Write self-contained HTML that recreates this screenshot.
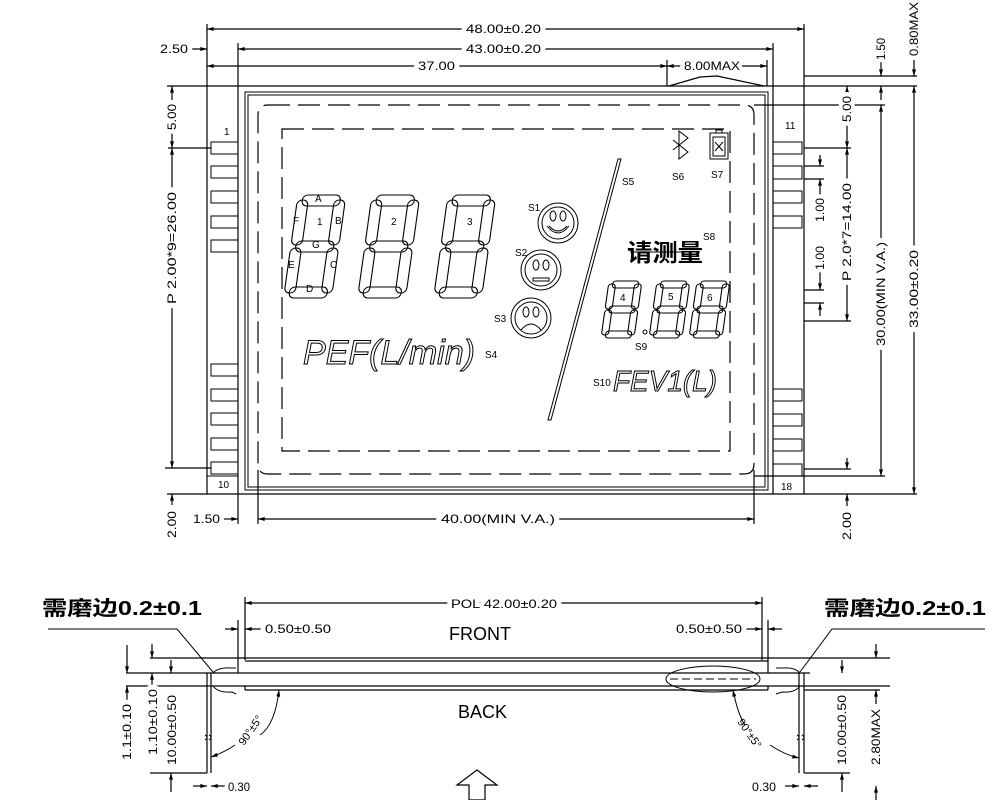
<!DOCTYPE html>
<html><head><meta charset="utf-8"><style>
html,body{margin:0;padding:0;background:#fff;}
svg{display:block;font-family:"Liberation Sans","Noto Sans CJK SC",sans-serif;}
.l{stroke:#000;stroke-width:1.2;fill:none;}
.t{stroke:#000;stroke-width:1;fill:none;}
.ds{stroke:#000;stroke-width:1.2;fill:none;stroke-dasharray:22 8;}
.dim{font-size:12px;fill:#000;paint-order:stroke;stroke:#fff;stroke-width:8px;stroke-linejoin:round;}
.sm{font-size:10px;fill:#000;}
.seg rect{fill:none;stroke:#000;stroke-width:1.1;}
</style></head><body>
<svg width="1000" height="800" viewBox="0 0 1000 800" xmlns="http://www.w3.org/2000/svg">
<defs>
<marker id="a" viewBox="0 0 10 6" refX="10" refY="3" markerWidth="7" markerHeight="4" orient="auto-start-reverse" markerUnits="userSpaceOnUse"><path d="M0,0L10,3L0,6z" fill="#000"/></marker>
<g id="dg" class="seg">
<rect x="5" y="0" width="38" height="11" rx="5"/>
<rect x="37" y="5" width="11" height="45" rx="5"/>
<rect x="37" y="53" width="11" height="45" rx="5"/>
<rect x="5" y="92" width="38" height="11" rx="5"/>
<rect x="0" y="53" width="11" height="45" rx="5"/>
<rect x="0" y="5" width="11" height="45" rx="5"/>
<rect x="5" y="46" width="38" height="11" rx="5"/>
</g>
<g id="sd" class="seg">
<rect x="4" y="0" width="26" height="7" rx="3"/>
<rect x="26" y="3" width="7" height="25" rx="3"/>
<rect x="26" y="29" width="7" height="25" rx="3"/>
<rect x="4" y="50" width="26" height="7" rx="3"/>
<rect x="0" y="29" width="7" height="25" rx="3"/>
<rect x="0" y="3" width="7" height="25" rx="3"/>
<rect x="4" y="25" width="26" height="7" rx="3"/>
</g>
</defs>

<line class="l" x1="207" y1="24" x2="207" y2="494"/>
<line class="l" x1="238" y1="43" x2="238" y2="524"/>
<line class="l" x1="773" y1="43" x2="773" y2="494"/>
<line class="l" x1="804" y1="24" x2="804" y2="494"/>
<line class="l" x1="167" y1="86" x2="917" y2="86"/>
<line class="l" x1="167" y1="494" x2="917" y2="494"/>
<rect class="t" x="245" y="92" width="523" height="398"/>
<rect class="t" x="248" y="95" width="517" height="392"/>
<path class="ds" d="M268,105 H744 Q754,105 754,115 V464 Q754,474 744,474 H268 Q258,474 258,464 V115 Q258,105 268,105Z"/>
<line class="l" x1="258" y1="470" x2="258" y2="524"/>
<line class="l" x1="754" y1="470" x2="754" y2="524"/>
<rect class="ds" x="282" y="129" width="448" height="322"/>
<g class="t">
<rect x="211" y="142" width="27" height="12"/><rect x="211" y="166" width="27" height="12"/>
<rect x="211" y="191" width="27" height="12"/><rect x="211" y="216" width="27" height="12"/>
<rect x="211" y="240" width="27" height="12"/>
<rect x="211" y="364" width="27" height="12"/><rect x="211" y="389" width="27" height="12"/>
<rect x="211" y="413" width="27" height="12"/><rect x="211" y="438" width="27" height="12"/>
<rect x="211" y="462" width="27" height="12"/>
<line x1="207" y1="476" x2="238" y2="476"/>
<rect x="773" y="142" width="29" height="12"/><rect x="773" y="166" width="29" height="13"/>
<rect x="773" y="191" width="29" height="12"/><rect x="773" y="216" width="29" height="12"/>
<rect x="773" y="389" width="29" height="12"/><rect x="773" y="414" width="29" height="12"/>
<rect x="773" y="439" width="29" height="12"/><rect x="773" y="464" width="29" height="12"/>
<line x1="773" y1="476" x2="804" y2="476"/>
</g>
<text class="sm" x="224" y="135">1</text>
<text class="sm" x="785" y="129">11</text>
<text class="sm" x="218" y="488">10</text>
<text class="sm" x="781" y="490">18</text>

<line class="l" x1="207" y1="29" x2="804" y2="29" marker-start="url(#a)" marker-end="url(#a)"/>
<text class="dim" x="466" y="33" textLength="75" lengthAdjust="spacingAndGlyphs">48.00±0.20</text>
<line class="l" x1="238" y1="49" x2="773" y2="49" marker-start="url(#a)" marker-end="url(#a)"/>
<text class="dim" x="466" y="53" textLength="75" lengthAdjust="spacingAndGlyphs">43.00±0.20</text>
<line class="l" x1="207" y1="66" x2="667" y2="66" marker-start="url(#a)" marker-end="url(#a)"/>
<text class="dim" x="418" y="70" textLength="37" lengthAdjust="spacingAndGlyphs">37.00</text>
<line class="l" x1="667" y1="60" x2="667" y2="86"/>
<line class="l" x1="767" y1="60" x2="767" y2="86"/>
<line class="l" x1="667" y1="66" x2="767" y2="66" marker-start="url(#a)" marker-end="url(#a)"/>
<text class="dim" x="684" y="70" textLength="56" lengthAdjust="spacingAndGlyphs">8.00MAX</text>
<polyline class="l" points="669,86 700,77 717,76 764,86"/>
<line class="l" x1="190" y1="49" x2="207" y2="49" marker-end="url(#a)"/>
<text class="dim" x="160" y="53" textLength="28" lengthAdjust="spacingAndGlyphs">2.50</text>

<line class="l" x1="168" y1="148" x2="211" y2="148"/>
<line class="l" x1="165" y1="468" x2="211" y2="468"/>
<line class="l" x1="172" y1="86" x2="172" y2="148" marker-start="url(#a)" marker-end="url(#a)"/>
<line class="l" x1="172" y1="148" x2="172" y2="468" marker-start="url(#a)" marker-end="url(#a)"/>
<text class="dim" transform="translate(176,130) rotate(-90)" textLength="26" lengthAdjust="spacingAndGlyphs">5.00</text>
<text class="dim" transform="translate(176,304) rotate(-90)" textLength="112" lengthAdjust="spacingAndGlyphs">P 2.00*9=26.00</text>
<line class="l" x1="172" y1="505" x2="172" y2="494" marker-end="url(#a)"/>
<text class="dim" transform="translate(176,538) rotate(-90)" textLength="27" lengthAdjust="spacingAndGlyphs">2.00</text>
<line class="l" x1="222" y1="519" x2="238" y2="519" marker-end="url(#a)"/>
<text class="dim" x="193" y="523" textLength="27" lengthAdjust="spacingAndGlyphs">1.50</text>
<line class="l" x1="258" y1="519" x2="754" y2="519" marker-start="url(#a)" marker-end="url(#a)"/>
<text class="dim" x="441" y="523" textLength="114" lengthAdjust="spacingAndGlyphs">40.00(MIN V.A.)</text>

<line class="l" x1="804" y1="76" x2="917" y2="76"/>
<line class="l" x1="754" y1="105" x2="885" y2="105"/>
<line class="l" x1="804" y1="148" x2="851" y2="148"/>
<line class="l" x1="804" y1="166" x2="824" y2="166"/>
<line class="l" x1="804" y1="179" x2="824" y2="179"/>
<line class="l" x1="804" y1="290" x2="824" y2="290"/>
<line class="l" x1="804" y1="303" x2="824" y2="303"/>
<line class="l" x1="804" y1="321" x2="851" y2="321"/>
<line class="l" x1="804" y1="469" x2="851" y2="469"/>
<line class="l" x1="754" y1="476" x2="885" y2="476"/>
<line class="l" x1="881" y1="62" x2="881" y2="76" marker-end="url(#a)"/>
<line class="l" x1="881" y1="100" x2="881" y2="86" marker-end="url(#a)"/>
<text class="dim" transform="translate(885,60) rotate(-90)" textLength="22" lengthAdjust="spacingAndGlyphs">1.50</text>
<line class="l" x1="914" y1="60" x2="914" y2="76" marker-end="url(#a)"/>
<text class="dim" transform="translate(918,56) rotate(-90)" textLength="54" lengthAdjust="spacingAndGlyphs">0.80MAX</text>
<line class="l" x1="914" y1="86" x2="914" y2="494" marker-start="url(#a)" marker-end="url(#a)"/>
<text class="dim" transform="translate(918,328) rotate(-90)" textLength="78" lengthAdjust="spacingAndGlyphs">33.00±0.20</text>
<line class="l" x1="881" y1="105" x2="881" y2="476" marker-start="url(#a)" marker-end="url(#a)"/>
<text class="dim" transform="translate(885,346) rotate(-90)" textLength="104" lengthAdjust="spacingAndGlyphs">30.00(MIN V.A.)</text>
<line class="l" x1="847" y1="86" x2="847" y2="148" marker-start="url(#a)" marker-end="url(#a)"/>
<text class="dim" transform="translate(851,122) rotate(-90)" textLength="26" lengthAdjust="spacingAndGlyphs">5.00</text>
<line class="l" x1="847" y1="148" x2="847" y2="321" marker-start="url(#a)" marker-end="url(#a)"/>
<text class="dim" transform="translate(851,281) rotate(-90)" textLength="98" lengthAdjust="spacingAndGlyphs">P 2.0*7=14.00</text>
<line class="l" x1="847" y1="458" x2="847" y2="469" marker-end="url(#a)"/>
<line class="l" x1="847" y1="506" x2="847" y2="494" marker-end="url(#a)"/>
<text class="dim" transform="translate(851,540) rotate(-90)" textLength="28" lengthAdjust="spacingAndGlyphs">2.00</text>
<line class="l" x1="820" y1="155" x2="820" y2="166" marker-end="url(#a)"/>
<line class="l" x1="820" y1="222" x2="820" y2="179" marker-end="url(#a)"/>
<text class="dim" transform="translate(824,222) rotate(-90)" textLength="24" lengthAdjust="spacingAndGlyphs">1.00</text>
<line class="l" x1="820" y1="244" x2="820" y2="290" marker-end="url(#a)"/>
<line class="l" x1="820" y1="316" x2="820" y2="303" marker-end="url(#a)"/>
<text class="dim" transform="translate(824,270) rotate(-90)" textLength="24" lengthAdjust="spacingAndGlyphs">1.00</text>

<use href="#dg" transform="translate(298,195) skewX(-8)"/>
<use href="#dg" transform="translate(372,195) skewX(-8)"/>
<use href="#dg" transform="translate(448,195) skewX(-8)"/>
<g class="sm" font-size="9">
<text x="315" y="202">A</text><text x="293" y="224">F</text><text x="335" y="224">B</text>
<text x="312" y="248">G</text><text x="288" y="268">E</text><text x="330" y="268">C</text><text x="306" y="292">D</text>
</g>
<text class="sm" x="317" y="225">1</text>
<text class="sm" x="391" y="225">2</text>
<text class="sm" x="467" y="225">3</text>
<g class="t">
<circle cx="558" cy="223" r="20"/><circle cx="558" cy="223" r="16"/>
<path d="M547,226 Q558,240 569,226"/><path d="M549,226 Q558,236 567,226"/>
<ellipse cx="553" cy="216" rx="3" ry="5"/><ellipse cx="563" cy="216" rx="3" ry="5"/>
<circle cx="541" cy="270" r="20"/><circle cx="541" cy="270" r="16"/>
<ellipse cx="536" cy="265" rx="3" ry="5"/><ellipse cx="546" cy="265" rx="3" ry="5"/>
<rect x="533" y="278" width="16" height="3"/>
<circle cx="531" cy="318" r="20"/><circle cx="531" cy="318" r="16"/>
<ellipse cx="526" cy="312" rx="3" ry="5"/><ellipse cx="536" cy="312" rx="3" ry="5"/>
<path d="M521,330 Q531,318 541,330"/>
</g>
<text class="sm" x="528" y="211">S1</text>
<text class="sm" x="515" y="256">S2</text>
<text class="sm" x="494" y="322">S3</text>
<polygon class="t" points="618,159 621,159 551,420 548,420"/>
<text class="sm" x="622" y="185">S5</text>
<path class="t" d="M673,140 L688,152 L679,159 L679,131 L688,138 L673,150"/>
<text class="sm" x="672" y="180">S6</text>
<rect class="t" x="710" y="133" width="18" height="26"/><rect class="t" x="713" y="137" width="12" height="19"/>
<rect class="t" x="716" y="130" width="6" height="3"/>
<path class="t" d="M715,142 L723,151 M723,142 L715,151"/>
<text class="sm" x="711" y="178">S7</text>
<text class="sm" x="703" y="240">S8</text>
<text x="627" y="261" font-size="24" font-weight="bold" textLength="76" lengthAdjust="spacingAndGlyphs" font-family="'Noto Sans CJK SC',sans-serif">请测量</text>
<line class="t" x1="630" y1="252" x2="700" y2="252"/>
<use href="#sd" transform="translate(609,281) skewX(-8)"/>
<use href="#sd" transform="translate(657,281) skewX(-8)"/>
<use href="#sd" transform="translate(697,281) skewX(-8)"/>
<text class="sm" x="620" y="301">4</text><text class="sm" x="668" y="300">5</text><text class="sm" x="707" y="301">6</text>
<circle class="t" cx="645" cy="332" r="2"/>
<text class="sm" x="635" y="350">S9</text>
<text class="sm" x="593" y="386">S10</text>
<text x="613" y="391" font-size="29" font-style="italic" fill="#fff" stroke="#000" stroke-width="1" textLength="104" lengthAdjust="spacingAndGlyphs">FEV1(L)</text>
<text x="303" y="364" font-size="34" font-style="italic" fill="#fff" stroke="#000" stroke-width="1" textLength="172" lengthAdjust="spacingAndGlyphs">PEF(L/min)</text>
<text class="sm" x="485" y="358">S4</text>

<text x="42" y="615" font-size="20" font-weight="bold" textLength="160" lengthAdjust="spacingAndGlyphs" font-family="'Liberation Sans','Noto Sans CJK SC',sans-serif">需磨边0.2±0.1</text>
<text x="824" y="615" font-size="20" font-weight="bold" textLength="162" lengthAdjust="spacingAndGlyphs" font-family="'Liberation Sans','Noto Sans CJK SC',sans-serif">需磨边0.2±0.1</text>
<polyline class="t" points="48,629 177,629 213,672"/>
<polyline class="t" points="985,629 832,629 800,672"/>
<line class="l" x1="245" y1="597" x2="245" y2="660"/>
<line class="l" x1="238" y1="620" x2="238" y2="673"/>
<line class="l" x1="762" y1="597" x2="762" y2="660"/>
<line class="l" x1="768" y1="620" x2="768" y2="673"/>
<line class="l" x1="245" y1="603" x2="762" y2="603" marker-start="url(#a)" marker-end="url(#a)"/>
<text class="dim" x="451" y="608" textLength="106" lengthAdjust="spacingAndGlyphs">POL 42.00±0.20</text>
<line class="l" x1="225" y1="629" x2="238" y2="629" marker-end="url(#a)"/>
<line class="l" x1="262" y1="629" x2="245" y2="629" marker-end="url(#a)"/>
<text class="dim" x="265" y="633" textLength="66" lengthAdjust="spacingAndGlyphs">0.50±0.50</text>
<line class="l" x1="746" y1="629" x2="762" y2="629" marker-end="url(#a)"/>
<line class="l" x1="782" y1="629" x2="768" y2="629" marker-end="url(#a)"/>
<text class="dim" x="676" y="633" textLength="66" lengthAdjust="spacingAndGlyphs">0.50±0.50</text>
<text x="449" y="640" font-size="18" textLength="62" lengthAdjust="spacingAndGlyphs">FRONT</text>
<text x="458" y="718" font-size="18" textLength="49" lengthAdjust="spacingAndGlyphs">BACK</text>
<line class="l" x1="150" y1="658" x2="890" y2="658"/>
<line class="l" x1="245" y1="661" x2="768" y2="661"/>
<line class="l" x1="126" y1="673" x2="810" y2="673"/>
<line class="l" x1="126" y1="686" x2="890" y2="686"/>
<line class="l" x1="245" y1="690" x2="768" y2="690"/>
<line class="l" x1="245" y1="686" x2="245" y2="690"/>
<line class="l" x1="768" y1="686" x2="768" y2="690"/>
<path class="t" d="M213,673 Q218,667 232,668 L236,668 M213,686 Q218,693 232,692 L236,694"/>
<path class="t" d="M800,673 Q795,667 782,668 L776,668 M800,686 Q795,693 782,692 L776,694"/>
<line class="l" x1="207" y1="673" x2="207" y2="773"/><line class="l" x1="211" y1="673" x2="211" y2="773"/>
<line class="l" x1="799" y1="673" x2="799" y2="773"/><line class="l" x1="804" y1="673" x2="804" y2="773"/>
<path class="t" d="M205,735 q4,2 0,5 M209,735 q4,2 0,5 M797,735 q4,2 0,5 M802,735 q4,2 0,5"/>
<ellipse class="t" cx="713" cy="679" rx="47" ry="13"/>
<line class="t" x1="670" y1="679" x2="756" y2="679" stroke-dasharray="8 4"/>
<line class="l" x1="150" y1="773" x2="207" y2="773"/>
<line class="l" x1="804" y1="773" x2="850" y2="773"/>
<line class="l" x1="804" y1="690" x2="880" y2="690"/>
<line class="l" x1="127" y1="645" x2="127" y2="673" marker-end="url(#a)"/>
<line class="l" x1="127" y1="702" x2="127" y2="686" marker-end="url(#a)"/>
<text class="dim" transform="translate(131,760) rotate(-90)" textLength="56" lengthAdjust="spacingAndGlyphs">1.1±0.10</text>
<line class="l" x1="152" y1="644" x2="152" y2="658" marker-end="url(#a)"/>
<line class="l" x1="152" y1="690" x2="152" y2="673" marker-end="url(#a)"/>
<text class="dim" transform="translate(157,755) rotate(-90)" textLength="66" lengthAdjust="spacingAndGlyphs">1.10±0.10</text>
<line class="l" x1="171" y1="660" x2="171" y2="673" marker-end="url(#a)"/>
<line class="l" x1="171" y1="792" x2="171" y2="773" marker-end="url(#a)"/>
<text class="dim" transform="translate(176,765) rotate(-90)" textLength="70" lengthAdjust="spacingAndGlyphs">10.00±0.50</text>
<line class="l" x1="193" y1="786" x2="207" y2="786" marker-end="url(#a)"/>
<line class="l" x1="225" y1="786" x2="211" y2="786" marker-end="url(#a)"/>
<text class="dim" x="228" y="791" textLength="22" lengthAdjust="spacingAndGlyphs">0.30</text>
<line class="l" x1="785" y1="786" x2="799" y2="786" marker-end="url(#a)"/>
<line class="l" x1="818" y1="786" x2="804" y2="786" marker-end="url(#a)"/>
<text class="dim" x="752" y="791" textLength="24" lengthAdjust="spacingAndGlyphs">0.30</text>
<line class="l" x1="842" y1="660" x2="842" y2="673" marker-end="url(#a)"/>
<line class="l" x1="842" y1="792" x2="842" y2="773" marker-end="url(#a)"/>
<text class="dim" transform="translate(846,765) rotate(-90)" textLength="70" lengthAdjust="spacingAndGlyphs">10.00±0.50</text>
<line class="l" x1="876" y1="644" x2="876" y2="658" marker-end="url(#a)"/>
<line class="l" x1="876" y1="704" x2="876" y2="690" marker-end="url(#a)"/>
<line class="l" x1="876" y1="800" x2="876" y2="786" marker-end="url(#a)"/>
<text class="dim" transform="translate(880,765) rotate(-90)" textLength="56" lengthAdjust="spacingAndGlyphs">2.80MAX</text>
<path class="t" d="M279,690 Q275,725 260,735" marker-start="url(#a)"/>
<path class="t" d="M235,745 Q225,752 211,757" marker-end="url(#a)"/>
<text font-size="11" transform="translate(244,746) rotate(-55)">90°±5°</text>
<path class="t" d="M733,690 Q738,715 745,725" marker-start="url(#a)"/>
<path class="t" d="M770,745 Q785,755 799,758" marker-end="url(#a)"/>
<text font-size="11" transform="translate(737,722) rotate(55)">90°±5°</text>
<polygon class="l" points="477,770 497,785 485,785 485,800 469,800 469,785 457,785"/>
</svg>
</body></html>
